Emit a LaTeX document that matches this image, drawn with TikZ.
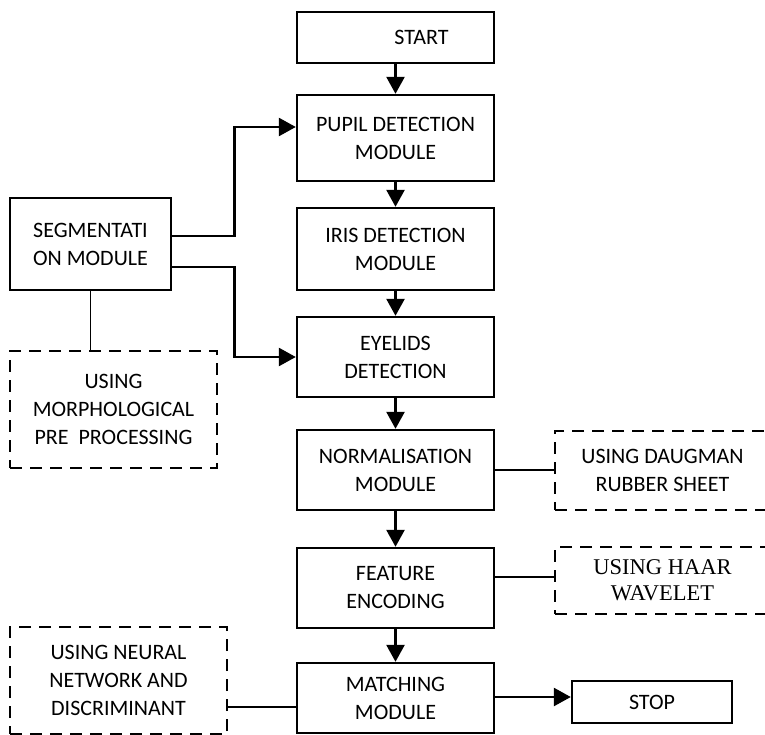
\documentclass[tikz,border=0pt]{standalone}
\usepackage{fontspec}
\setmainfont{Carlito}
\newfontfamily\serifhaar{Liberation Serif}
\usetikzlibrary{arrows.meta, positioning}

\begin{document}
\begin{tikzpicture}[x=1pt, y=-1pt,
    box/.style={draw, line width=2.4pt, align=center, inner sep=0pt,
                font=\fontsize{22}{28}\selectfont},
    dashbox/.style={box, line width=2.8pt, dash pattern=on 12pt off 8pt},
    flow/.style={-{Triangle[length=17pt,width=18pt]}, line width=2.6pt},
    link/.style={line width=1.8pt}]
  \useasboundingbox (0,0) rectangle (765,735);

  % main column
  \node[box, minimum width=197pt, minimum height=51pt] (start) at (395.5,37.5) {\hspace{52pt}START};
  \node[box, minimum width=197pt, minimum height=86pt] (pupil) at (395.5,138) {PUPIL DETECTION\\MODULE};
  \node[box, minimum width=197pt, minimum height=82pt] (iris) at (395.5,249) {IRIS DETECTION\\MODULE};
  \node[box, minimum width=197pt, minimum height=80pt] (eyelid) at (395.5,357) {EYELIDS\\DETECTION};
  \node[box, minimum width=197pt, minimum height=80pt] (norm) at (395.5,470) {NORMALISATION\\MODULE};
  \node[box, minimum width=197pt, minimum height=80pt] (feature) at (395.5,588) {FEATURE\\ENCODING};
  \node[box, minimum width=197pt, minimum height=70pt] (matching) at (395.5,698) {MATCHING\\MODULE};
  \node[box, minimum width=160pt, minimum height=42pt] (stop) at (652,702) {STOP};

  % segmentation and its method
  \node[box, minimum width=161pt, minimum height=92pt] (seg) at (90.5,244) {SEGMENTATI\\ON MODULE};
  \node[dashbox, minimum width=207pt, minimum height=117pt] (morph) at (113.5,409.5) {USING\\MORPHOLOGICAL\\PRE~~PROCESSING};

  % methods on the side
  \node[dashbox, minimum width=215pt, minimum height=79pt] (daugman) at (662.5,470.5) {USING DAUGMAN\\RUBBER SHEET};
  \node[dashbox, minimum width=215pt, minimum height=67pt,
        font=\serifhaar\fontsize{22.5}{26}\selectfont] (haar) at (662.5,580.5) {USING HAAR\\WAVELET};
  \node[dashbox, minimum width=217pt, minimum height=107pt] (neural) at (118.5,680.5) {USING NEURAL\\NETWORK AND\\DISCRIMINANT};

  % flow arrows
  \draw[flow] (start.south) -- (pupil.north);
  \draw[flow] (pupil.south) -- (iris.north);
  \draw[flow] (iris.south) -- (eyelid.north);
  \draw[flow] (eyelid.south) -- (norm.north);
  \draw[flow] (norm.south) -- (feature.north);
  \draw[flow] (feature.south) -- (matching.north);
  \draw[flow] ([yshift=1pt]matching.east) -- ([yshift=5pt]stop.west);

  % segmentation feeds pupil and eyelids
  \draw[flow] ([yshift=8pt]seg.east) -- ++(62,0) |- ([yshift=11pt]pupil.west);
  \draw[flow] ([yshift=-23pt]seg.east) -- ++(62,0) |- (eyelid.west);

  % plain links to the methods
  \draw[link] (seg.south) -- (seg.south |- morph.north);
  \draw[link] (norm.east) -- (norm.east -| daugman.west);
  \draw[link] ([yshift=11pt]feature.east) -- ([yshift=3.5pt]haar.west);
  \draw[link] ([yshift=-26.5pt]neural.east) -- ([yshift=-9pt]matching.west);
\end{tikzpicture}
\end{document}
